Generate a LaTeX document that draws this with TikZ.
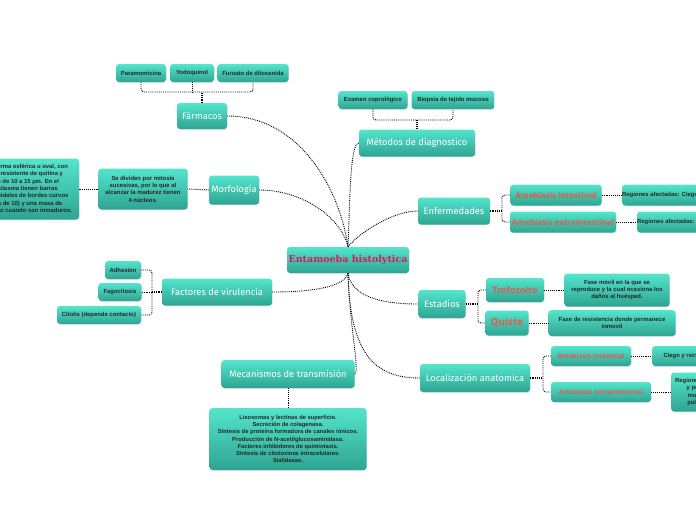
\documentclass[tikz,border=0pt]{standalone}
\usepackage{fontspec}
\setmainfont{Liberation Sans}
\newfontfamily\handfont{Fira Sans}
\newfontfamily\redfont{Open Sans}
\newfontfamily\titlefont{DejaVu Serif}
\usetikzlibrary{shadows}

\definecolor{tealtop}{RGB}{84,229,204}
\definecolor{tealbot}{RGB}{46,164,146}
\definecolor{redtext}{RGB}{232,86,78}
\definecolor{crimson}{RGB}{220,20,100}

\tikzset{
  box/.style={rounded corners=3pt, top color=tealtop, bottom color=tealbot,
    draw=none, inner sep=0pt, align=center,
    drop shadow={shadow xshift=0.5pt, shadow yshift=-0.8pt, opacity=0.2}},
  topic/.style={box, text=white, font=\handfont\fontsize{9.3}{10}\selectfont},
  leaf/.style={box, text=black!85, font=\bfseries\fontsize{5.9}{7.3}\selectfont},
  redleaf/.style={box, text=redtext, font=\redfont\bfseries\fontsize{8}{10}\selectfont},
  link/.style={densely dotted, line width=0.9pt},
}

\begin{document}
\begin{tikzpicture}[x=1pt, y=-1pt]
\useasboundingbox (0,0) rectangle (696,520);
\clip (0,0) rectangle (696,520);

% central node
\node[box, minimum width=122pt, minimum height=26pt, text=crimson,
  font=\titlefont\bfseries\fontsize{9.5}{11}\selectfont] (ent) at (348,260) {Entamoeba histolytica};

% Farmacos
\node[topic, minimum width=50pt, minimum height=26pt] (farm) at (202,116) {Fármacos};
\node[leaf, minimum width=50pt, minimum height=18pt] (para) at (141,73) {Paramomicina};
\node[leaf, minimum width=44pt, minimum height=18pt] (yodo) at (192,73) {Yodoquinol};
\node[leaf, minimum width=71pt, minimum height=18pt] (furo) at (253,73) {Furoato de diloxanida};
\coordinate (farmbr) at (202,92);
\draw[link, rounded corners=3pt] (para.south) |- (farmbr) -| (furo.south);
\draw[link] (yodo.south) -- (yodo.south |- farmbr);
\draw[link, line width=1.2pt] (farm.north) -- (farmbr);

% Metodos de diagnostico
\node[topic, minimum width=116pt, minimum height=27pt] (met) at (417,143) {Métodos de diagnostico};
\node[leaf, minimum width=69pt, minimum height=18pt] (copro) at (373,100) {Examen coprológico};
\node[leaf, minimum width=83pt, minimum height=18pt] (biop) at (453,100) {Biopsia de tejido mucoso};
\coordinate (metbr) at (417,120);
\draw[link, rounded corners=3pt] (copro.south) |- (metbr) -| (biop.south);
\draw[link, line width=1.2pt] (met.north) -- (metbr);

% Morfologia
\node[topic, minimum width=50pt, minimum height=29pt] (morf) at (234,190) {Morfología};
\node[leaf, minimum width=89pt, minimum height=41pt] (mitosis) at (143,189)
  {Se dividen por mitosis\\ sucesivas, por lo que al\\ alcanzar la madurez tienen\\ 4 núcleos.};
\node[leaf, minimum width=112pt, minimum height=61pt] (quitina) at (23,189)
  {Tiene forma esférica u oval, con\\ pared resistente de quitina y\\ mide de 10 a 15 µm. En el\\ citoplasma tienen barras\\ cromatoidales de bordes curvos\\ (hasta de 10) y una masa de\\ glucógeno cuando son inmaduros.};
\draw[link] (morf.west) -- (mitosis.east);
\draw[link] (mitosis.west) -- (quitina.east);

% Factores de virulencia
\node[topic, minimum width=110pt, minimum height=27pt] (fac) at (217,292) {Factores de virulencia};
\node[leaf, minimum width=36pt, minimum height=18pt] (adh) at (123,270) {Adhesion};
\node[leaf, minimum width=43pt, minimum height=18pt] (fago) at (120,292) {Fagocitosis};
\node[leaf, minimum width=84pt, minimum height=18pt] (cito) at (99,315) {Citolis (depende contacto)};
\coordinate (facbr) at (152,292);
\draw[link, rounded corners=3pt] (adh.east) -| (facbr |- cito.east) -- (cito.east);
\draw[link] (fago.east) -- (facbr);
\draw[link, line width=1.2pt] (fac.west) -- (facbr);

% Mecanismos de transmision
\node[topic, minimum width=133pt, minimum height=28pt] (mec) at (288,374) {Mecanismos de transmisión};
\node[leaf, minimum width=157pt, minimum height=62pt, font=\bfseries\fontsize{5.8}{7.2}\selectfont] (lis) at (288,439)
  {Lisosomas y lectinas de superficie.\\ Secreción de colagenasa.\\
   Síntesis de proteína formadora de canales iónicos.\\ Producción de N-acetilglucosaminidasa.\\
   Factores inhibidores de quimiotaxis.\\ Síntesis de citotoxinas intracelulares.\\ Sialidasas.};
\draw[link] (mec.south) -- (lis.north);

% Enfermedades
\node[topic, minimum width=72pt, minimum height=27pt] (enf) at (454,211) {Enfermedades};
\node[redleaf, minimum width=91pt, minimum height=21pt] (eai) at (556,195) {Amebiasis intestinal};
\node[redleaf, minimum width=106pt, minimum height=21pt] (eae) at (563,222) {Amebiasis extraintestinal};
\node[leaf, minimum width=84pt, minimum height=21pt, anchor=west] (rai) at (622,195) {Regiones afectadas: Ciego y recto};
\node[leaf, minimum width=84pt, minimum height=21pt, anchor=west] (rae) at (637,222) {Regiones afectadas: Pulmones};
\coordinate (enfbr) at (502,211);
\draw[link, rounded corners=3pt] (eai.west) -| (enfbr |- eae.west) -- (eae.west);
\draw[link, line width=1.2pt] (enf.east) -- (enfbr);
\draw[link] (eai.east) -- (rai.west);
\draw[link] (eae.east) -- (rae.west);

% Estadios
\node[topic, minimum width=47pt, minimum height=28pt] (est) at (442,304) {Estadios};
\node[redleaf, minimum width=58pt, minimum height=24pt, font=\redfont\bfseries\fontsize{9}{11}\selectfont] (trof) at (515,290) {Trofozoito};
\node[redleaf, minimum width=43pt, minimum height=25pt, font=\redfont\bfseries\fontsize{10}{12}\selectfont] (quis) at (507,323) {Quiste};
\node[leaf, minimum width=105pt, minimum height=33pt] (movil) at (617,290)
  {Fase móvil en la que se\\ reproduce y la cual ocasiona los\\ daños al huésped.};
\node[leaf, minimum width=127pt, minimum height=26pt] (resis) at (612,323)
  {Fase de resistencia donde permanece\\ inmovil};
\coordinate (estbr) at (478,304);
\draw[link, rounded corners=3pt] (trof.west) -| (estbr |- quis.west) -- (quis.west);
\draw[link, line width=1.2pt] (est.east) -- (estbr);
\draw[link] (trof.east) -- (movil.west);
\draw[link] (quis.east) -- (resis.west);

% Localizacion anatomica
\node[topic, minimum width=110pt, minimum height=28pt] (loc) at (475,378) {Localización anatomica};
\node[redleaf, minimum width=80pt, minimum height=20pt, font=\redfont\bfseries\fontsize{6.6}{8}\selectfont] (lai) at (591,356) {Amebiasis intestinal};
\node[redleaf, minimum width=100pt, minimum height=20pt, font=\redfont\bfseries\fontsize{6.6}{8}\selectfont] (lae) at (601,392) {Amebiasis extraintestinal};
\node[leaf, minimum width=60pt, minimum height=20pt, anchor=west] (ciego) at (652,356) {Ciego y recto};
\node[leaf, minimum width=60pt, minimum height=39pt, anchor=west] (hepa) at (671,392)
  {Regiones hepática\\ y perianal,\\ mucosa y\\ pulmones};
\coordinate (locbr) at (543,378);
\draw[link, rounded corners=3pt] (lai.west) -| (locbr |- lae.west) -- (lae.west);
\draw[link, line width=1.2pt] (loc.east) -- (locbr);
\draw[link] (lai.east) -- (ciego.west);
\draw[link] (lae.east) -- (hepa.west);

% main branches
\draw[link] (farm.east) .. controls (300,116) and (340,190) .. (ent.north);
\draw[link] (met.west) .. controls (350,143) and (350,200) .. (ent.north);
\draw[link] (morf.east) .. controls (300,190) and (340,215) .. (ent.north);
\draw[link] (ent.north) .. controls (362,230) and (395,211) .. (enf.west);
\draw[link] (fac.east) .. controls (320,292) and (345,285) .. (ent.south);
\draw[link] (ent.south) .. controls (350,330) and (360,372) .. (mec.east);
\draw[link] (ent.south) .. controls (352,300) and (390,304) .. (est.west);
\draw[link] (ent.south) .. controls (350,355) and (375,378) .. (loc.west);
\end{tikzpicture}
\end{document}
